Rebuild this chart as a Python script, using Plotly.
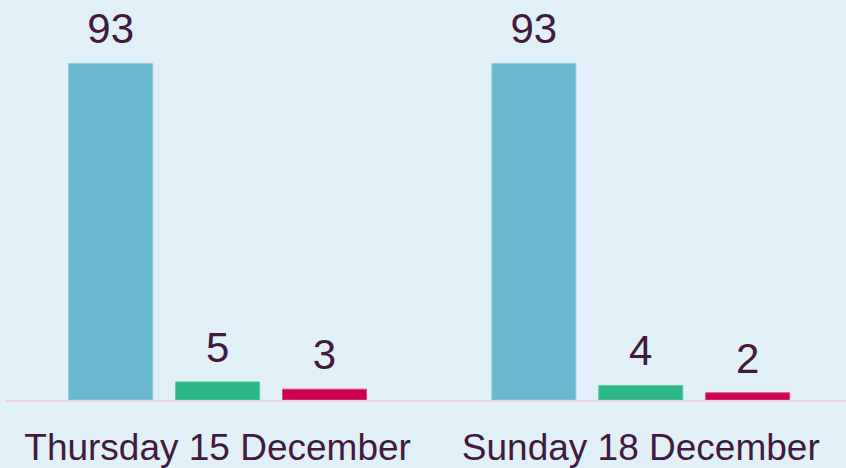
import plotly.graph_objects as go

categories = ["Thursday 15 December", "Sunday 18 December"]
series_names = ["Series A", "Series B", "Series C"]
values_a = [93, 93]
values_b = [5, 4]
values_c = [3, 2]
series_values = [values_a, values_b, values_c]
colors = ["#69b8ce", "#2bb886", "#cf004e"]
outline = ["#8fcadb", "#5cc9a0", "#dc4a80"]

BG = "#e1f0f6"
TEXT = "#421a3e"
GAP = 0.242
GROUPGAP = 0.214

fig = go.Figure()
for name, vals, col, oc in zip(series_names, series_values, colors, outline):
    fig.add_trace(go.Bar(
        x=categories, y=vals, name=name,
        marker=dict(color=col, line=dict(color=oc, width=1)),
        hoverinfo="skip",
    ))
for name, vals in zip(series_names, series_values):
    fig.add_trace(go.Scatter(
        x=categories, y=vals, name=name + " labels",
        mode="markers+text",
        marker=dict(size=14, color="rgba(0,0,0,0)"),
        text=[str(v) for v in vals],
        textposition="top center",
        textfont=dict(family="Liberation Sans, Arial, sans-serif", size=42, color=TEXT),
        cliponaxis=False,
        hoverinfo="skip",
    ))

fig.update_layout(
    width=846, height=468,
    margin=dict(l=6, r=0, t=0, b=65),
    paper_bgcolor=BG, plot_bgcolor=BG,
    barmode="group", bargap=GAP, bargroupgap=GROUPGAP,
    scattermode="group", scattergap=GAP,
    showlegend=False,
    xaxis=dict(
        range=[-0.5, 1.485],
        showline=True, linecolor="#edcde4", linewidth=2,
        showgrid=False, zeroline=False, ticks="",
        tickfont=dict(family="Liberation Sans, Arial, sans-serif", size=37, color=TEXT),
        ticklabelstandoff=14,
    ),
    yaxis=dict(range=[0, 110.6], visible=False, showgrid=False, zeroline=False),
)

fig.write_html(
    "out.html",
    config={"displayModeBar": False, "staticPlot": True},
    post_script="document.body.style.margin='0';document.body.style.background='" + BG + "';",
)
